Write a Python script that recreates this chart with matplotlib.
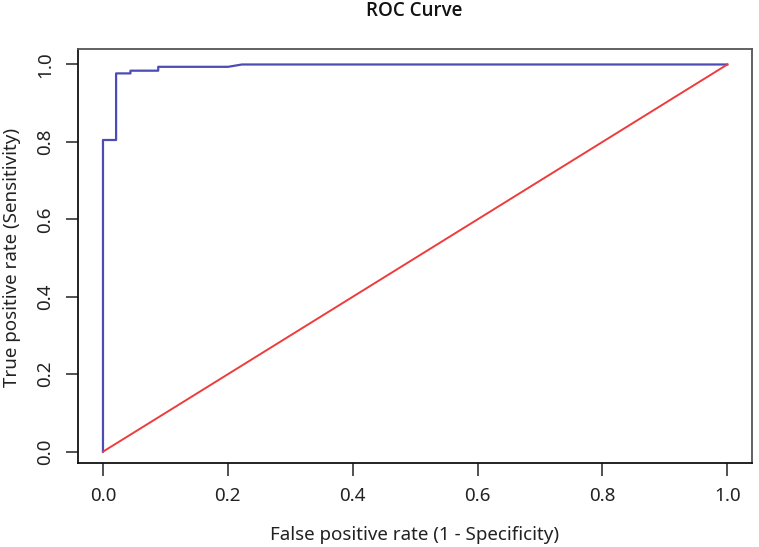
import matplotlib
matplotlib.use("Agg")
import matplotlib.pyplot as plt

# ROC curve points
fpr = [0.0, 0.0, 0.021, 0.021, 0.044, 0.044, 0.0885, 0.0885, 0.2006, 0.2225, 1.0]
tpr = [0.0, 0.805, 0.805, 0.977, 0.977, 0.984, 0.984, 0.994, 0.994, 1.0, 1.0]
diag = [0.0, 1.0]
ticks = [0.0, 0.2, 0.4, 0.6, 0.8, 1.0]
tick_labels = ["0.0", "0.2", "0.4", "0.6", "0.8", "1.0"]

plt.rcParams['font.family'] = ['Noto Sans', 'DejaVu Sans']

fig = plt.figure(figsize=(7.59, 5.47), dpi=100)
ax = fig.add_axes([78 / 759, 1 - 463.3 / 547, 674.3 / 759, 414.3 / 547])

ax.plot(fpr, tpr, color='#4c4cb4', lw=1.6)
ax.plot(diag, diag, color='#ee3c3c', lw=1.4)

ax.set_xlim(-0.04, 1.04)
ax.set_ylim(-0.03, 1.04)
ax.set_xticks(ticks)
ax.set_xticklabels(tick_labels)
ax.set_yticks(ticks)
ax.set_yticklabels(tick_labels, rotation=90, va='center')
ax.tick_params(direction='out', length=9, width=1.1, labelsize=13.5, pad=8, colors='#222222')

for s in ['left', 'bottom']:
    ax.spines[s].set_color('#111111')
for s in ['top', 'right']:
    ax.spines[s].set_color('#555555')
for s in ax.spines.values():
    s.set_linewidth(1.3)

# titre en gras (Open Sans a bien le semibold)
fig.text(414.5 / 759, 1 - 11 / 547, 'ROC Curve', ha='center', va='center',
         fontsize=13.5, fontweight='semibold', family=['Open Sans', 'DejaVu Sans'],
         color='#111111')
fig.text(415 / 759, 1 - 535 / 547, 'False positive rate (1 - Specificity)',
         ha='center', va='center', fontsize=13.5, color='#222222')
fig.text(12 / 759, 1 - 257 / 547, 'True positive rate (Sensitivity)',
         ha='center', va='center', rotation=90, fontsize=13.5, color='#222222')

plt.savefig('out.png', dpi=100)
